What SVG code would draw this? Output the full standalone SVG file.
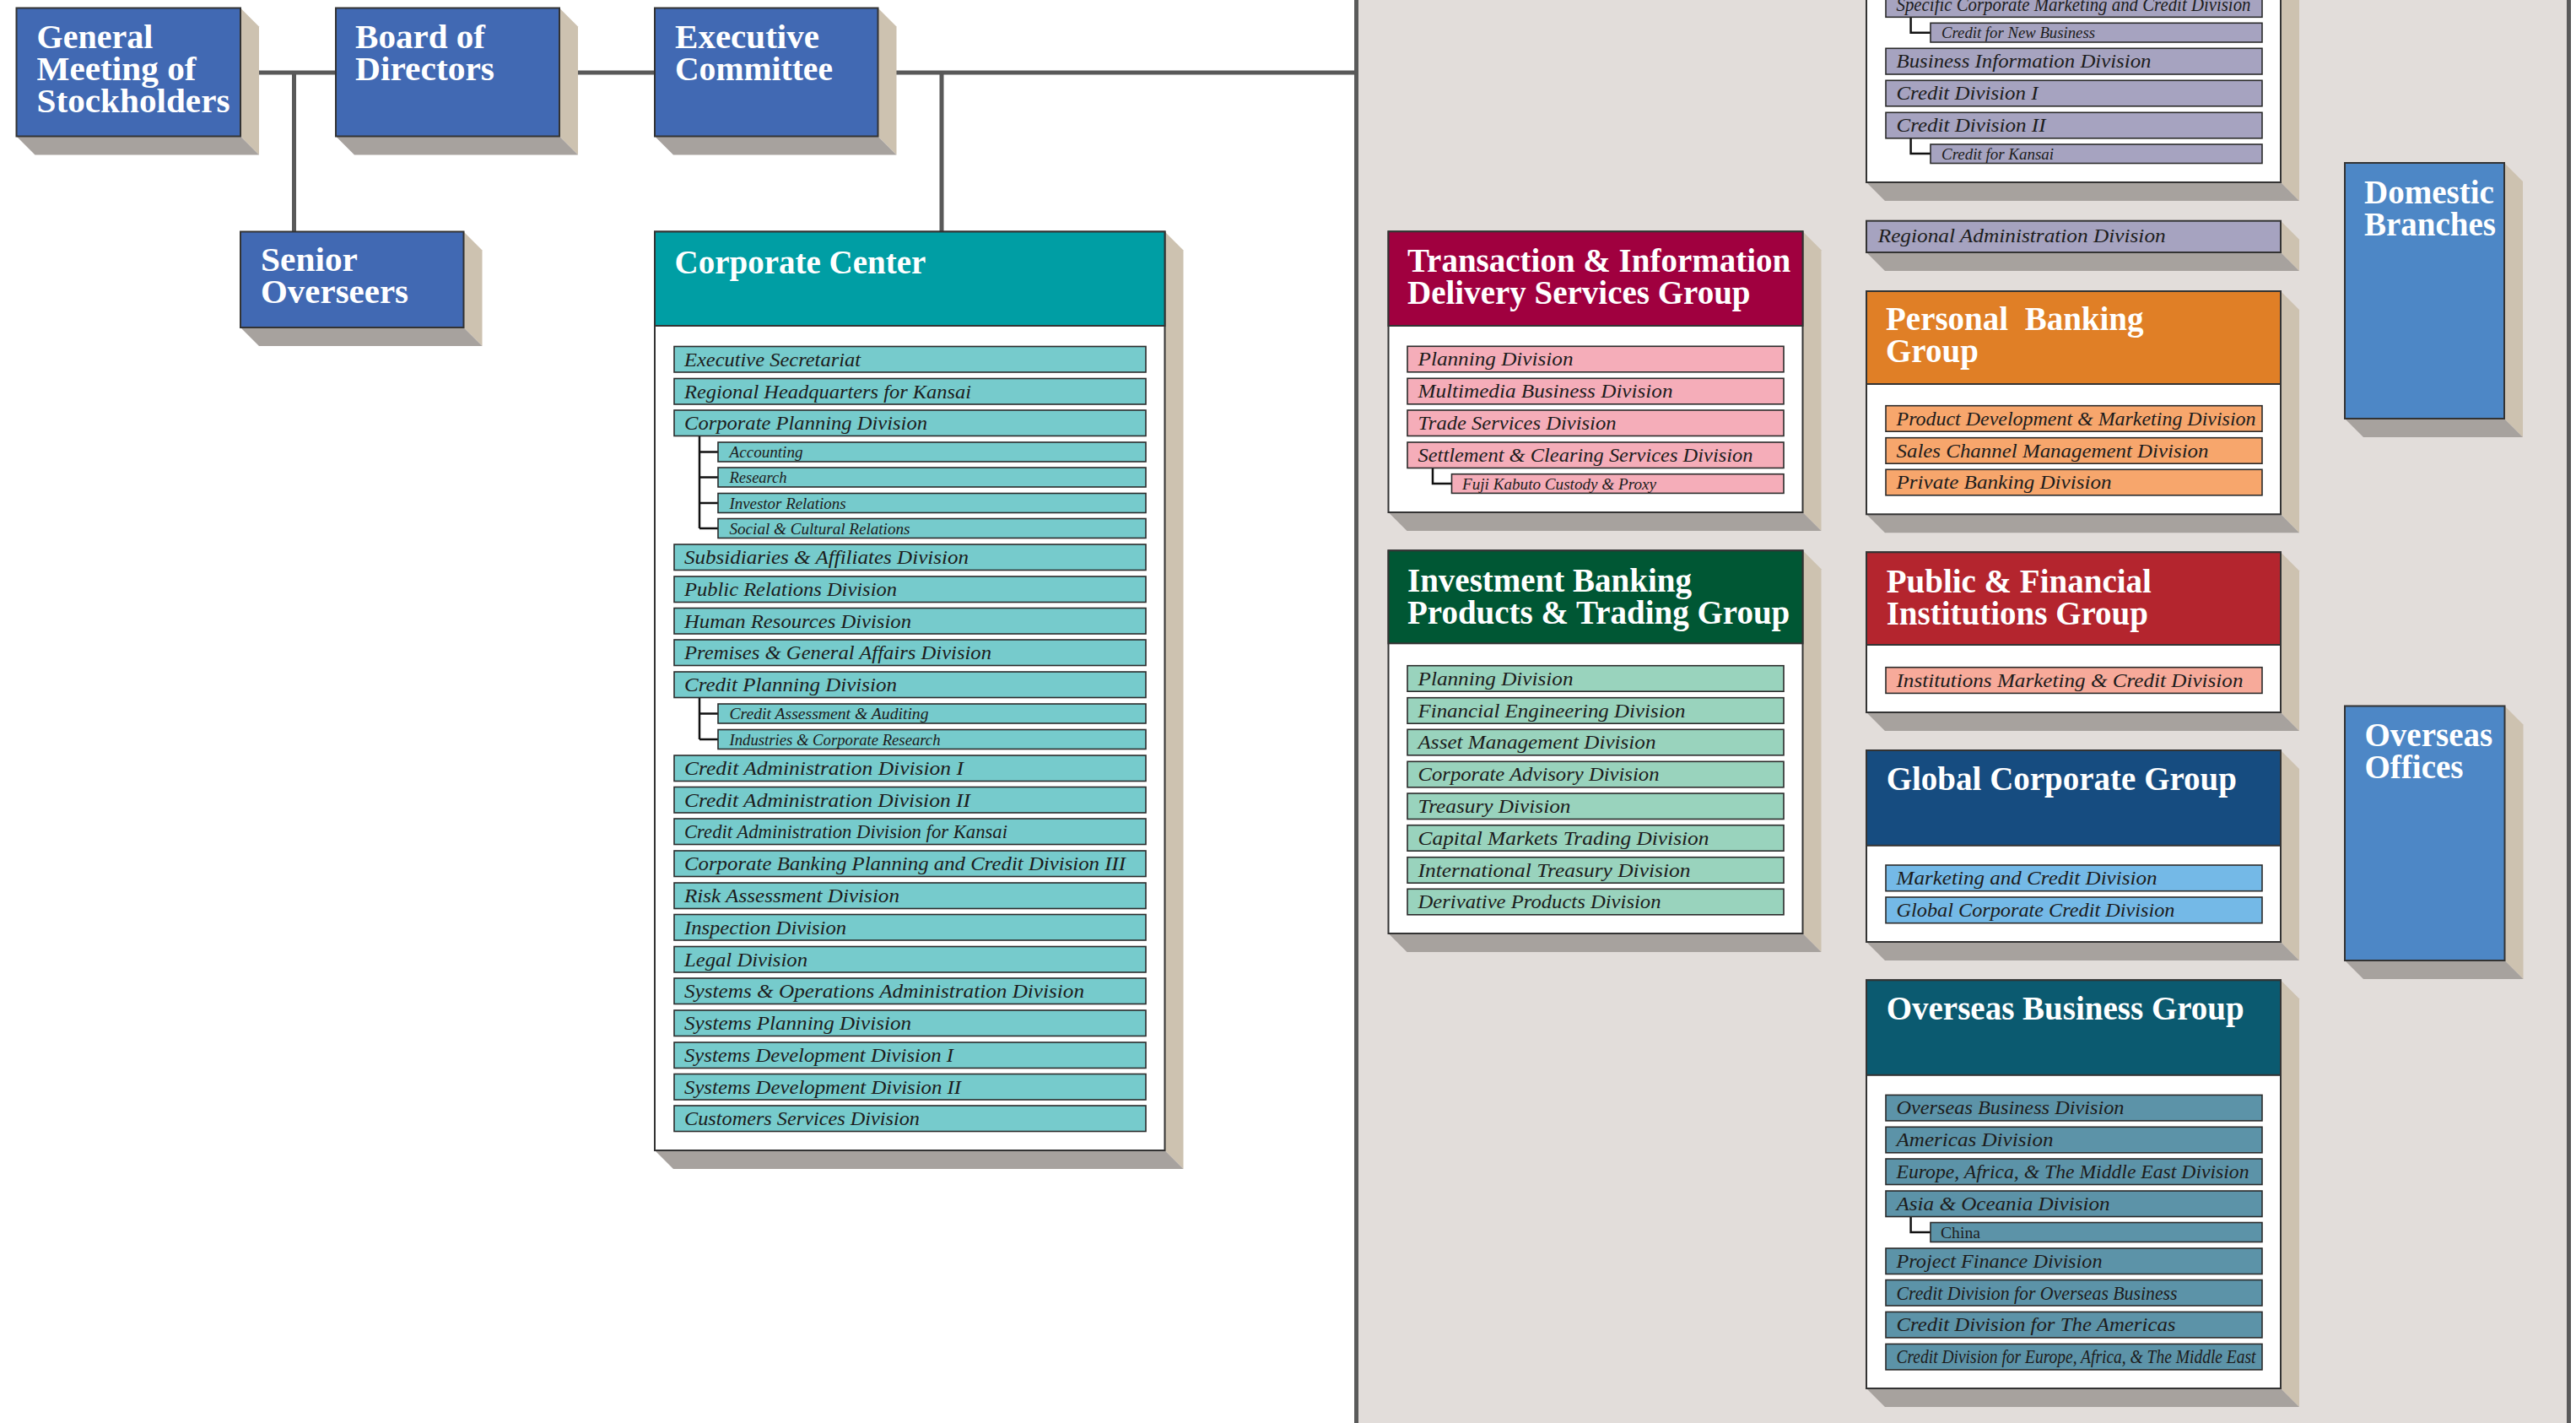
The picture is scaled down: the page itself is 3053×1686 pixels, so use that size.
<svg xmlns="http://www.w3.org/2000/svg" width="3053" height="1686" viewBox="0 0 3053 1686">
<style>
.bg{fill:#ffffff}
.panel{fill:#e2ddda}
.edge{stroke:#5a5a5a;stroke-width:5;fill:none}
.conn{stroke:#595959;stroke-width:5;fill:none}
.sr{fill:#cdc2b0}
.sb{fill:#a7a29e}
.box{stroke:#333;stroke-width:2}
.body{fill:#ffffff;stroke:#333;stroke-width:2}
.navy{fill:#4169b3}
.lblue{fill:#4d87c6}
.item{stroke:#2b2b2b;stroke-width:1.6}
.tree{stroke:#111;stroke-width:2.5;fill:none}
.ttl{font-family:'Liberation Serif','Times New Roman',serif;font-weight:bold;font-size:39px;fill:#ffffff}
.it{font-family:'Liberation Serif','Times New Roman',serif;font-style:italic;font-size:24px;fill:#1c1c1c}
.sub{font-size:19px}
.rom{font-style:normal}
.cc{fill:#76cbcc}
.tids{fill:#f5adb9}
.ib{fill:#99d3bd}
.pb{fill:#f7a66c}
.pf{fill:#f7aa9a}
.gc{fill:#74b9e7}
.ob{fill:#5c93a8}
.lv{fill:#a6a3c0}
</style>
<rect class="bg" x="0" y="0" width="3053" height="1686"/>
<rect class="panel" x="1607.5" y="0" width="1437" height="1686"/>
<line class="edge" x1="1607.5" y1="0" x2="1607.5" y2="1686"/>
<line class="edge" x1="3044.5" y1="0" x2="3044.5" y2="1686"/>

<g id="connectors">
<line class="conn" x1="296" y1="86" x2="398" y2="86"/>
<line class="conn" x1="348.5" y1="86" x2="348.5" y2="275"/>
<line class="conn" x1="674" y1="86" x2="776" y2="86"/>
<line class="conn" x1="1052" y1="86" x2="1607" y2="86"/>
<line class="conn" x1="1116" y1="86" x2="1116" y2="275"/>
</g>

<g id="general-meeting">
<polygon class="sr" points="285,9.5 307,31.5 307,183.5 285,161.5"/>
<polygon class="sb" points="19.5,161.5 285,161.5 307,183.5 41.5,183.5"/>
<rect class="box navy" x="19.5" y="9.5" width="265.5" height="152"/>
<text class="ttl" x="43.5" y="57" textLength="138" lengthAdjust="spacingAndGlyphs">General</text>
<text class="ttl" x="43.5" y="95" textLength="189" lengthAdjust="spacingAndGlyphs">Meeting of</text>
<text class="ttl" x="43.5" y="133" textLength="229" lengthAdjust="spacingAndGlyphs">Stockholders</text>
</g>

<g id="board">
<polygon class="sr" points="663,9.5 685,31.5 685,183.5 663,161.5"/>
<polygon class="sb" points="398,161.5 663,161.5 685,183.5 420,183.5"/>
<rect class="box navy" x="398" y="9.5" width="265" height="152"/>
<text class="ttl" x="421" y="57" textLength="154" lengthAdjust="spacingAndGlyphs">Board of</text>
<text class="ttl" x="421" y="95" textLength="165" lengthAdjust="spacingAndGlyphs">Directors</text>
</g>

<g id="executive-committee">
<polygon class="sr" points="1040.5,9.5 1062.5,31.5 1062.5,183.5 1040.5,161.5"/>
<polygon class="sb" points="776,161.5 1040.5,161.5 1062.5,183.5 798,183.5"/>
<rect class="box navy" x="776" y="9.5" width="264.5" height="152"/>
<text class="ttl" x="800" y="57" textLength="171" lengthAdjust="spacingAndGlyphs">Executive</text>
<text class="ttl" x="800" y="95" textLength="187" lengthAdjust="spacingAndGlyphs">Committee</text>
</g>

<g id="senior-overseers">
<polygon class="sr" points="549.5,274.5 571.5,296.5 571.5,410 549.5,388"/>
<polygon class="sb" points="285,388 549.5,388 571.5,410 307,410"/>
<rect class="box navy" x="285" y="274.5" width="264.5" height="113.5"/>
<text class="ttl" x="309" y="321" textLength="115" lengthAdjust="spacingAndGlyphs">Senior</text>
<text class="ttl" x="309" y="359" textLength="175" lengthAdjust="spacingAndGlyphs">Overseers</text>
</g>

<g id="corporate-center">
<polygon class="sr" points="1380.5,274.5 1402.5,296.5 1402.5,1385 1380.5,1363"/>
<polygon class="sb" points="776,1363 1380.5,1363 1402.5,1385 798,1385"/>
<rect class="body" x="776" y="274.5" width="604.5" height="1088.5"/>
<rect x="776" y="274.5" width="604.5" height="111.5" fill="#009ea4" stroke="#333" stroke-width="2"/>
<text class="ttl" x="799.5" y="324">Corporate Center</text>
<path class="tree" d="M829,516.5V626M829,535.5H851M829,565.5H851M829,596H851M829,626H851M829,826.5V876M829,845.5H851M829,876H851"/>
<rect class="item cc" x="799" y="410.5" width="559" height="30.5"/><text class="it" x="811" y="433.5" textLength="209" lengthAdjust="spacingAndGlyphs">Executive Secretariat</text>
<rect class="item cc" x="799" y="448.5" width="559" height="30.5"/><text class="it" x="811" y="471.5" textLength="340" lengthAdjust="spacingAndGlyphs">Regional Headquarters for Kansai</text>
<rect class="item cc" x="799" y="486" width="559" height="30.5"/><text class="it" x="811" y="509" textLength="288" lengthAdjust="spacingAndGlyphs">Corporate Planning Division</text>
<rect class="item cc" x="851" y="524" width="507" height="23"/><text class="it sub" x="864.5" y="542" textLength="87" lengthAdjust="spacingAndGlyphs">Accounting</text>
<rect class="item cc" x="851" y="554" width="507" height="23"/><text class="it sub" x="864.5" y="572" textLength="68" lengthAdjust="spacingAndGlyphs">Research</text>
<rect class="item cc" x="851" y="584.5" width="507" height="23"/><text class="it sub" x="864.5" y="602.5" textLength="138" lengthAdjust="spacingAndGlyphs">Investor Relations</text>
<rect class="item cc" x="851" y="614.5" width="507" height="23"/><text class="it sub" x="864.5" y="632.5" textLength="214" lengthAdjust="spacingAndGlyphs">Social &amp; Cultural Relations</text>
<rect class="item cc" x="799" y="645" width="559" height="30.5"/><text class="it" x="811" y="668" textLength="337" lengthAdjust="spacingAndGlyphs">Subsidiaries &amp; Affiliates Division</text>
<rect class="item cc" x="799" y="683" width="559" height="30.5"/><text class="it" x="811" y="706" textLength="252" lengthAdjust="spacingAndGlyphs">Public Relations Division</text>
<rect class="item cc" x="799" y="720.5" width="559" height="30.5"/><text class="it" x="811" y="743.5" textLength="269" lengthAdjust="spacingAndGlyphs">Human Resources Division</text>
<rect class="item cc" x="799" y="758" width="559" height="30.5"/><text class="it" x="811" y="781" textLength="364" lengthAdjust="spacingAndGlyphs">Premises &amp; General Affairs Division</text>
<rect class="item cc" x="799" y="796" width="559" height="30.5"/><text class="it" x="811" y="819" textLength="252" lengthAdjust="spacingAndGlyphs">Credit Planning Division</text>
<rect class="item cc" x="851" y="834" width="507" height="23"/><text class="it sub" x="864.5" y="852" textLength="236" lengthAdjust="spacingAndGlyphs">Credit Assessment &amp; Auditing</text>
<rect class="item cc" x="851" y="864.5" width="507" height="23"/><text class="it sub" x="864.5" y="882.5" textLength="250" lengthAdjust="spacingAndGlyphs">Industries &amp; Corporate Research</text>
<rect class="item cc" x="799" y="895" width="559" height="30.5"/><text class="it" x="811" y="918" textLength="331" lengthAdjust="spacingAndGlyphs">Credit Administration Division I</text>
<rect class="item cc" x="799" y="932.5" width="559" height="30.5"/><text class="it" x="811" y="955.5" textLength="339" lengthAdjust="spacingAndGlyphs">Credit Administration Division II</text>
<rect class="item cc" x="799" y="970" width="559" height="30.5"/><text class="it" x="811" y="993" textLength="383" lengthAdjust="spacingAndGlyphs">Credit Administration Division for Kansai</text>
<rect class="item cc" x="799" y="1008" width="559" height="30.5"/><text class="it" x="811" y="1031" textLength="523" lengthAdjust="spacingAndGlyphs">Corporate Banking Planning and Credit Division III</text>
<rect class="item cc" x="799" y="1046" width="559" height="30.5"/><text class="it" x="811" y="1069" textLength="255" lengthAdjust="spacingAndGlyphs">Risk Assessment Division</text>
<rect class="item cc" x="799" y="1083.5" width="559" height="30.5"/><text class="it" x="811" y="1106.5" textLength="192" lengthAdjust="spacingAndGlyphs">Inspection Division</text>
<rect class="item cc" x="799" y="1121.5" width="559" height="30.5"/><text class="it" x="811" y="1144.5" textLength="146" lengthAdjust="spacingAndGlyphs">Legal Division</text>
<rect class="item cc" x="799" y="1159" width="559" height="30.5"/><text class="it" x="811" y="1182" textLength="474" lengthAdjust="spacingAndGlyphs">Systems &amp; Operations Administration Division</text>
<rect class="item cc" x="799" y="1197" width="559" height="30.5"/><text class="it" x="811" y="1220" textLength="269" lengthAdjust="spacingAndGlyphs">Systems Planning Division</text>
<rect class="item cc" x="799" y="1235" width="559" height="30.5"/><text class="it" x="811" y="1258" textLength="319" lengthAdjust="spacingAndGlyphs">Systems Development Division I</text>
<rect class="item cc" x="799" y="1272.5" width="559" height="30.5"/><text class="it" x="811" y="1295.5" textLength="328" lengthAdjust="spacingAndGlyphs">Systems Development Division II</text>
<rect class="item cc" x="799" y="1310" width="559" height="30.5"/><text class="it" x="811" y="1333" textLength="279" lengthAdjust="spacingAndGlyphs">Customers Services Division</text>
</g>

<g id="transaction-information">
<polygon class="sr" points="2136.5,274.3 2158.5,296.3 2158.5,629 2136.5,607"/>
<polygon class="sb" points="1645.5,607 2136.5,607 2158.5,629 1667.5,629"/>
<rect class="body" x="1645.5" y="274.3" width="491" height="332.7"/>
<rect x="1645.5" y="274.3" width="491" height="111.7" fill="#a0003f" stroke="#333" stroke-width="2"/>
<text class="ttl" x="1668" y="322">Transaction &amp; Information</text>
<text class="ttl" x="1668" y="360">Delivery Services Group</text>
<path class="tree" d="M1698,554.7V573H1720.5"/>
<rect class="item tids" x="1668" y="410.3" width="446" height="30.5"/><text class="it" x="1680.5" y="433.3" textLength="184" lengthAdjust="spacingAndGlyphs">Planning Division</text>
<rect class="item tids" x="1668" y="448.3" width="446" height="30.5"/><text class="it" x="1680.5" y="471.3" textLength="302" lengthAdjust="spacingAndGlyphs">Multimedia Business Division</text>
<rect class="item tids" x="1668" y="486" width="446" height="30.5"/><text class="it" x="1680.5" y="509" textLength="235" lengthAdjust="spacingAndGlyphs">Trade Services Division</text>
<rect class="item tids" x="1668" y="524" width="446" height="30.5"/><text class="it" x="1680.5" y="547" textLength="397" lengthAdjust="spacingAndGlyphs">Settlement &amp; Clearing Services Division</text>
<rect class="item tids" x="1720.5" y="561.7" width="393.5" height="22.7"/><text class="it sub" x="1733" y="579.5" textLength="230" lengthAdjust="spacingAndGlyphs">Fuji Kabuto Custody &amp; Proxy</text>
</g>

<g id="investment-banking">
<polygon class="sr" points="2136.5,652.3 2158.5,674.3 2158.5,1128 2136.5,1106"/>
<polygon class="sb" points="1645.5,1106 2136.5,1106 2158.5,1128 1667.5,1128"/>
<rect class="body" x="1645.5" y="652.3" width="491" height="453.7"/>
<rect x="1645.5" y="652.3" width="491" height="110" fill="#005734" stroke="#333" stroke-width="2"/>
<text class="ttl" x="1668" y="700.5">Investment Banking</text>
<text class="ttl" x="1668" y="738.5">Products &amp; Trading Group</text>
<rect class="item ib" x="1668" y="788.7" width="446" height="30.5"/><text class="it" x="1680.5" y="811.7" textLength="184" lengthAdjust="spacingAndGlyphs">Planning Division</text>
<rect class="item ib" x="1668" y="826.7" width="446" height="30.5"/><text class="it" x="1680.5" y="849.7" textLength="317" lengthAdjust="spacingAndGlyphs">Financial Engineering Division</text>
<rect class="item ib" x="1668" y="864.3" width="446" height="30.5"/><text class="it" x="1680.5" y="887.3" textLength="282" lengthAdjust="spacingAndGlyphs">Asset Management Division</text>
<rect class="item ib" x="1668" y="902.3" width="446" height="30.5"/><text class="it" x="1680.5" y="925.3" textLength="286" lengthAdjust="spacingAndGlyphs">Corporate Advisory Division</text>
<rect class="item ib" x="1668" y="940" width="446" height="30.5"/><text class="it" x="1680.5" y="963" textLength="181" lengthAdjust="spacingAndGlyphs">Treasury Division</text>
<rect class="item ib" x="1668" y="977.7" width="446" height="30.5"/><text class="it" x="1680.5" y="1000.7" textLength="345" lengthAdjust="spacingAndGlyphs">Capital Markets Trading Division</text>
<rect class="item ib" x="1668" y="1015.7" width="446" height="30.5"/><text class="it" x="1680.5" y="1038.7" textLength="323" lengthAdjust="spacingAndGlyphs">International Treasury Division</text>
<rect class="item ib" x="1668" y="1053.3" width="446" height="30.5"/><text class="it" x="1680.5" y="1076.3" textLength="288" lengthAdjust="spacingAndGlyphs">Derivative Products Division</text>
</g>

<g id="specific-corporate">
<polygon class="sr" points="2703,-300 2725,-278 2725,238 2703,216"/>
<polygon class="sb" points="2212,216 2703,216 2725,238 2234,238"/>
<rect class="body" x="2212" y="-300" width="491" height="516"/>
<path class="tree" d="M2264.6,20.3V38.7H2288M2264.6,164V182H2288"/>
<rect class="item lv" x="2235" y="-10.4" width="446" height="30.7"/><text class="it" x="2247.5" y="12.6" textLength="420" lengthAdjust="spacingAndGlyphs">Specific Corporate Marketing and Credit Division</text>
<rect class="item lv" x="2288" y="27.3" width="393" height="22.7"/><text class="it sub" x="2301" y="45" textLength="182" lengthAdjust="spacingAndGlyphs">Credit for New Business</text>
<rect class="item lv" x="2235" y="57.3" width="446" height="30.7"/><text class="it" x="2247.5" y="80.3" textLength="302" lengthAdjust="spacingAndGlyphs">Business Information Division</text>
<rect class="item lv" x="2235" y="95.3" width="446" height="30.5"/><text class="it" x="2247.5" y="118.3" textLength="168" lengthAdjust="spacingAndGlyphs">Credit Division I</text>
<rect class="item lv" x="2235" y="133.3" width="446" height="30.5"/><text class="it" x="2247.5" y="156.3" textLength="177" lengthAdjust="spacingAndGlyphs">Credit Division II</text>
<rect class="item lv" x="2288" y="171" width="393" height="22.5"/><text class="it sub" x="2301" y="188.8" textLength="133" lengthAdjust="spacingAndGlyphs">Credit for Kansai</text>
</g>

<g id="regional-administration">
<polygon class="sr" points="2703,261.7 2725,283.7 2725,321 2703,299"/>
<polygon class="sb" points="2212,299 2703,299 2725,321 2234,321"/>
<rect class="box lv" x="2212" y="261.7" width="491" height="37.3"/>
<text class="it" x="2225.7" y="287" textLength="341" lengthAdjust="spacingAndGlyphs">Regional Administration Division</text>
</g>

<g id="personal-banking">
<polygon class="sr" points="2703,345 2725,367 2725,631.3 2703,609.3"/>
<polygon class="sb" points="2212,609.3 2703,609.3 2725,631.3 2234,631.3"/>
<rect class="body" x="2212" y="345" width="491" height="264.3"/>
<rect x="2212" y="345" width="491" height="110" fill="#e07f26" stroke="#333" stroke-width="2"/>
<text class="ttl" x="2235" y="391">Personal&#160; Banking</text>
<text class="ttl" x="2235" y="429">Group</text>
<rect class="item pb" x="2235" y="480.7" width="446" height="30.5"/><text class="it" x="2247.5" y="503.7" textLength="426" lengthAdjust="spacingAndGlyphs">Product Development &amp; Marketing Division</text>
<rect class="item pb" x="2235" y="518.7" width="446" height="30.5"/><text class="it" x="2247.5" y="541.7" textLength="370" lengthAdjust="spacingAndGlyphs">Sales Channel Management Division</text>
<rect class="item pb" x="2235" y="556.3" width="446" height="30.5"/><text class="it" x="2247.5" y="579.3" textLength="255" lengthAdjust="spacingAndGlyphs">Private Banking Division</text>
</g>

<g id="public-financial">
<polygon class="sr" points="2703,654.3 2725,676.3 2725,866 2703,844"/>
<polygon class="sb" points="2212,844 2703,844 2725,866 2234,866"/>
<rect class="body" x="2212" y="654.3" width="491" height="189.7"/>
<rect x="2212" y="654.3" width="491" height="109.7" fill="#b4252e" stroke="#333" stroke-width="2"/>
<text class="ttl" x="2235.7" y="702">Public &amp; Financial</text>
<text class="ttl" x="2235.7" y="740">Institutions Group</text>
<rect class="item pf" x="2235" y="790.7" width="446" height="30.7"/><text class="it" x="2247.5" y="813.7" textLength="411" lengthAdjust="spacingAndGlyphs">Institutions Marketing &amp; Credit Division</text>
</g>

<g id="global-corporate">
<polygon class="sr" points="2703,889 2725,911 2725,1138 2703,1116"/>
<polygon class="sb" points="2212,1116 2703,1116 2725,1138 2234,1138"/>
<rect class="body" x="2212" y="889" width="491" height="227"/>
<rect x="2212" y="889" width="491" height="112.8" fill="#164c80" stroke="#333" stroke-width="2"/>
<text class="ttl" x="2235.7" y="935.7">Global Corporate Group</text>
<rect class="item gc" x="2235" y="1025" width="446" height="30.7"/><text class="it" x="2247.5" y="1048" textLength="309" lengthAdjust="spacingAndGlyphs">Marketing and Credit Division</text>
<rect class="item gc" x="2235" y="1063" width="446" height="30.7"/><text class="it" x="2247.5" y="1086" textLength="330" lengthAdjust="spacingAndGlyphs">Global Corporate Credit Division</text>
</g>

<g id="overseas-business">
<polygon class="sr" points="2703,1161.3 2725,1183.3 2725,1667 2703,1645"/>
<polygon class="sb" points="2212,1645 2703,1645 2725,1667 2234,1667"/>
<rect class="body" x="2212" y="1161.3" width="491" height="483.7"/>
<rect x="2212" y="1161.3" width="491" height="112.5" fill="#0b5a70" stroke="#333" stroke-width="2"/>
<text class="ttl" x="2235.7" y="1208">Overseas Business Group</text>
<path class="tree" d="M2264.6,1441.5V1460H2288"/>
<rect class="item ob" x="2235" y="1297.4" width="446" height="30.5"/><text class="it" x="2247.5" y="1320.4" textLength="270" lengthAdjust="spacingAndGlyphs">Overseas Business Division</text>
<rect class="item ob" x="2235" y="1335.3" width="446" height="30.5"/><text class="it" x="2247.5" y="1358.3" textLength="186" lengthAdjust="spacingAndGlyphs">Americas Division</text>
<rect class="item ob" x="2235" y="1373" width="446" height="30.5"/><text class="it" x="2247.5" y="1396" textLength="418" lengthAdjust="spacingAndGlyphs">Europe, Africa, &amp; The Middle East Division</text>
<rect class="item ob" x="2235" y="1411" width="446" height="30.5"/><text class="it" x="2247.5" y="1434" textLength="253" lengthAdjust="spacingAndGlyphs">Asia &amp; Oceania Division</text>
<rect class="item ob" x="2288" y="1448.5" width="393" height="23"/><text class="it sub rom" x="2300" y="1466.5" textLength="47" lengthAdjust="spacingAndGlyphs">China</text>
<rect class="item ob" x="2235" y="1479" width="446" height="30.5"/><text class="it" x="2247.5" y="1502" textLength="244" lengthAdjust="spacingAndGlyphs">Project Finance Division</text>
<rect class="item ob" x="2235" y="1516.5" width="446" height="30.5"/><text class="it" x="2247.5" y="1539.5" textLength="333" lengthAdjust="spacingAndGlyphs">Credit Division for Overseas Business</text>
<rect class="item ob" x="2235" y="1554.4" width="446" height="30.5"/><text class="it" x="2247.5" y="1577.4" textLength="331" lengthAdjust="spacingAndGlyphs">Credit Division for The Americas</text>
<rect class="item ob" x="2235" y="1592.4" width="446" height="30.5"/><text class="it" x="2247.5" y="1615.4" textLength="426" lengthAdjust="spacingAndGlyphs">Credit Division for Europe, Africa, &amp; The Middle East</text>
</g>

<g id="domestic-branches">
<polygon class="sr" points="2968,193 2990,215 2990,518 2968,496"/>
<polygon class="sb" points="2779,496 2968,496 2990,518 2801,518"/>
<rect class="box lblue" x="2779" y="193" width="189" height="303"/>
<text class="ttl" x="2802" y="241">Domestic</text>
<text class="ttl" x="2802" y="279">Branches</text>
</g>

<g id="overseas-offices">
<polygon class="sr" points="2968.5,836.5 2990.5,858.5 2990.5,1160 2968.5,1138"/>
<polygon class="sb" points="2779,1138 2968.5,1138 2990.5,1160 2801,1160"/>
<rect class="box lblue" x="2779" y="836.5" width="189.5" height="301.5"/>
<text class="ttl" x="2802.5" y="884">Overseas</text>
<text class="ttl" x="2802.5" y="922">Offices</text>
</g>
</svg>
